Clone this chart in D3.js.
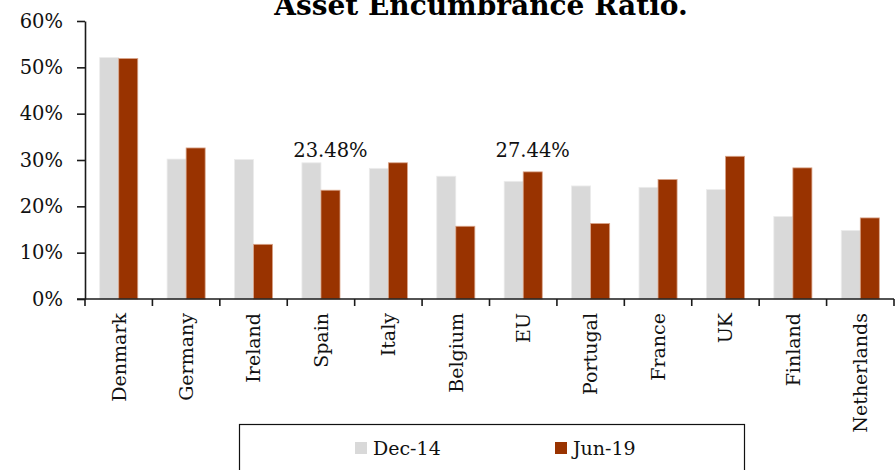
<!DOCTYPE html>
<html>
<head>
<meta charset="utf-8">
<script src="https://cdn.jsdelivr.net/npm/d3@7"></script>
<style>
  html, body { margin: 0; padding: 0; background: #fff; }
  svg { display: block; font-family: "DejaVu Serif", serif; }
</style>
</head>
<body>
<svg id="chart" width="896" height="470"></svg>
<script>
// Asset encumbrance ratio by country, two reporting dates
const categories = ["Denmark", "Germany", "Ireland", "Spain", "Italy", "Belgium",
                    "EU", "Portugal", "France", "UK", "Finland", "Netherlands"];
const seriesNames = ["Dec-14", "Jun-19"];
const dec14 = [52.1, 30.2, 30.1, 29.4, 28.2, 26.5, 25.4, 24.4, 24.1, 23.6, 17.8, 14.8];
const jun19 = [51.9, 32.6, 11.8, 23.48, 29.4, 15.7, 27.44, 16.3, 25.8, 30.8, 28.3, 17.5];
const yTicks = [0, 10, 20, 30, 40, 50, 60];
const labelled = ["Spain", "EU"];   // Jun-19 values printed above the chart
const colors = { "Dec-14": "#d9d9d9", "Jun-19": "#993300" };

const svg = d3.select("#chart");
const margin = { left: 85, right: 2, top: 21, bottom: 171 };
const W = 896, H = 470;

const x = d3.scaleBand().domain(categories)
  .range([margin.left, W - margin.right]).paddingInner(0).paddingOuter(0);
const x1 = d3.scaleBand().domain(seriesNames)
  .range([0, x.bandwidth()]).paddingInner(0).paddingOuter(0.77);
const y = d3.scaleLinear().domain([0, 60]).range([H - margin.bottom, margin.top]);

const rows = categories.map((c, i) => ({ cat: c, "Dec-14": dec14[i], "Jun-19": jun19[i] }));

// bars
const groups = svg.append("g").selectAll("g").data(rows).join("g")
  .attr("transform", d => `translate(${x(d.cat)},0)`);
groups.selectAll("rect")
  .data(d => seriesNames.map(s => ({ s, v: d[s] })))
  .join("rect")
  .attr("x", d => x1(d.s))
  .attr("width", x1.bandwidth())
  .attr("y", d => y(d.v))
  .attr("height", d => y(0) - y(d.v))
  .attr("fill", d => colors[d.s])
  .attr("stroke", d => d.s === "Jun-19" ? "#d9a58a" : "#ececec")
  .attr("stroke-width", 0.8);

// y axis
const yAxis = svg.append("g")
  .attr("transform", `translate(${margin.left},0)`)
  .call(d3.axisLeft(y).tickValues(yTicks).tickFormat(d => d + "%").tickSize(8).tickSizeOuter(0).tickPadding(14));
yAxis.select(".domain").attr("stroke", "#1a1a1a").attr("stroke-width", 1.6);
yAxis.selectAll(".tick line").attr("stroke", "#1a1a1a").attr("stroke-width", 1.6);
yAxis.selectAll(".tick text").attr("font-family", "DejaVu Serif").attr("font-size", 19.5)
  .attr("fill", "#111");

// x axis: baseline, boundary ticks and rotated category names
const xg = svg.append("g");
xg.append("line")
  .attr("x1", x.range()[0] - 8).attr("x2", x.range()[1])
  .attr("y1", y(0)).attr("y2", y(0))
  .attr("stroke", "#1a1a1a").attr("stroke-width", 1.6);
const bounds = categories.map(c => x(c)).concat([x.range()[1]]);
xg.selectAll("line.tk").data(bounds).join("line")
  .attr("class", "tk")
  .attr("x1", d => d).attr("x2", d => d)
  .attr("y1", y(0)).attr("y2", y(0) + 7)
  .attr("stroke", "#1a1a1a").attr("stroke-width", 1.6);
xg.selectAll("text").data(categories).join("text")
  .attr("transform", d => `translate(${x(d) + x.bandwidth() / 2},${y(0) + 14}) rotate(-90)`)
  .attr("text-anchor", "end")
  .attr("dy", "0.36em")
  .attr("font-size", 19)
  .attr("fill", "#111")
  .text(d => d);

// value labels for selected Jun-19 bars
svg.append("g").selectAll("text").data(labelled).join("text")
  .attr("x", d => x(d) + x1("Jun-19") + x1.bandwidth() / 2)
  .attr("y", y(30.56))
  .attr("text-anchor", "middle")
  .attr("font-size", 19.5)
  .attr("fill", "#111")
  .text(d => d3.format(".2f")(jun19[categories.indexOf(d)]) + "%");

// title
svg.append("text")
  .attr("x", 481).attr("y", 15)
  .attr("text-anchor", "middle")
  .attr("font-size", 28)
  .attr("font-weight", "bold")
  .attr("fill", "#000")
  .text("Asset Encumbrance Ratio.");

// legend
const lg = svg.append("g");
lg.append("rect")
  .attr("x", 239.5).attr("y", 424.5).attr("width", 505).attr("height", 60)
  .attr("fill", "#fff").attr("stroke", "#111").attr("stroke-width", 1.2);
const legendX = { "Dec-14": 355, "Jun-19": 555 };
const items = lg.selectAll("g").data(seriesNames).join("g")
  .attr("transform", d => `translate(${legendX[d]},442)`);
items.append("rect").attr("width", 12).attr("height", 12).attr("fill", d => colors[d]);
items.append("text").attr("x", 18).attr("y", 13).attr("font-size", 19).attr("fill", "#111").text(d => d);
</script>
</body>
</html>
